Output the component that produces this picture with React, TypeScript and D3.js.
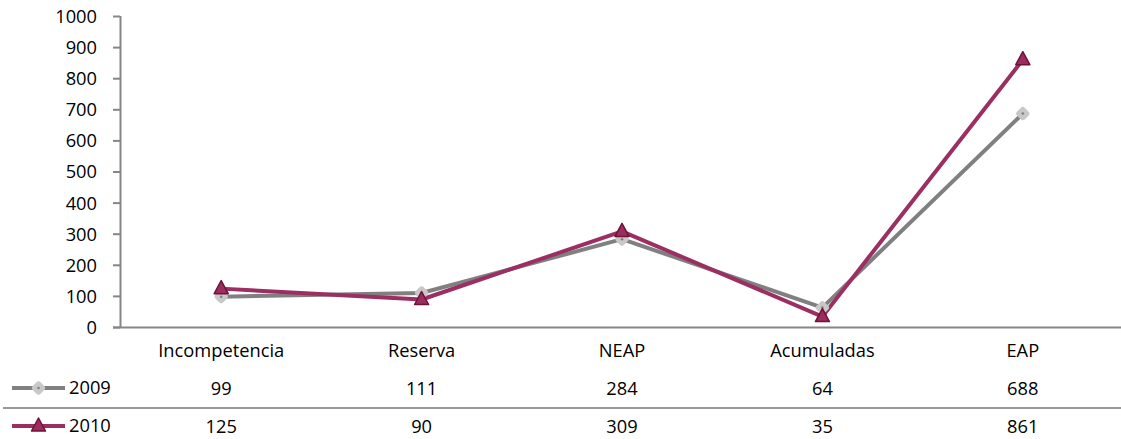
import React from "react";
import * as d3 from "d3";

const categories = ["Incompetencia", "Reserva", "NEAP", "Acumuladas", "EAP"];
const values2009 = [99, 111, 284, 64, 688];
const values2010 = [125, 90, 309, 35, 861];
const yTicks = [0, 100, 200, 300, 400, 500, 600, 700, 800, 900, 1000];

const W = 1121, H = 439;
const FONT = "'Open Sans', Lato, sans-serif";
const FS = 18.3;

export default function App() {
  const x = d3.scaleBand<string>().domain(categories).range([121, 1123]);
  const cx = (c: string) => (x(c) as number) + x.bandwidth() / 2;
  const y = d3.scaleLinear().domain([0, 1000]).range([327.5, 16.5]);
  const line = d3.line<number>().x((_, i) => cx(categories[i])).y((d) => y(d));

  const c09 = "#808080", c10 = "#9b2f62";
  const diamond = (px: number, py: number, k: string) => (
    <g key={k}>
      <rect x={px - 5.5} y={py - 5.5} width={11} height={11} rx={3} fill="#c8c8c8" transform={`rotate(45 ${px} ${py})`} />
      <circle cx={px} cy={py} r={1.3} fill="#808080" />
    </g>
  );
  const tri = (px: number, py: number, k: string) => (
    <path key={k} d={`M${px},${py - 8}L${px + 7},${py + 5}L${px - 7},${py + 5}Z`} fill="#9b2d5e" stroke="#6e1238" strokeWidth={1.5} strokeLinejoin="round" />
  );

  return (
    <svg width={W} height={H} style={{ position: "absolute", left: 0, top: 0, background: "#fff" }} fontFamily={FONT}>
      <line x1={120.5} x2={120.5} y1={16} y2={328} stroke="#868686" strokeWidth={2} />
      {yTicks.map((t) => (
        <g key={t}>
          <line x1={113} x2={120} y1={y(t)} y2={y(t)} stroke="#868686" strokeWidth={2} />
          <text x={97} y={y(t)} dy="0.35em" textAnchor="end" fontSize={FS} fill="#000">{t}</text>
        </g>
      ))}
      <line x1={113} x2={W} y1={327.5} y2={327.5} stroke="#868686" strokeWidth={2} />
      <line x1={3} x2={W} y1={408} y2={408} stroke="#999" strokeWidth={2} />
      <path d={line(values2009) || ""} fill="none" stroke={c09} strokeWidth={4} strokeLinejoin="round" />
      <path d={line(values2010) || ""} fill="none" stroke={c10} strokeWidth={4} strokeLinejoin="round" />
      {values2009.map((v, i) => diamond(cx(categories[i]), y(v), "d" + i))}
      {values2010.map((v, i) => tri(cx(categories[i]), y(v), "t" + i))}
      {categories.map((c) => (
        <text key={c} x={cx(c)} y={351} dy="0.35em" textAnchor="middle" fontSize={FS} fill="#000">{c}</text>
      ))}
      <line x1={12} x2={65} y1={388} y2={388} stroke={c09} strokeWidth={4} />
      {diamond(38.5, 388, "ld")}
      <text x={69} y={388} dy="0.35em" fontSize={FS} fill="#000">2009</text>
      {values2009.map((v, i) => (
        <text key={"v9" + i} x={cx(categories[i])} y={389} dy="0.35em" textAnchor="middle" fontSize={FS} fill="#000">{v}</text>
      ))}
      <line x1={12} x2={65} y1={426} y2={426} stroke={c10} strokeWidth={4} />
      {tri(38.5, 426, "lt")}
      <text x={69} y={426} dy="0.35em" fontSize={FS} fill="#000">2010</text>
      {values2010.map((v, i) => (
        <text key={"v10" + i} x={cx(categories[i])} y={427} dy="0.35em" textAnchor="middle" fontSize={FS} fill="#000">{v}</text>
      ))}
    </svg>
  );
}
